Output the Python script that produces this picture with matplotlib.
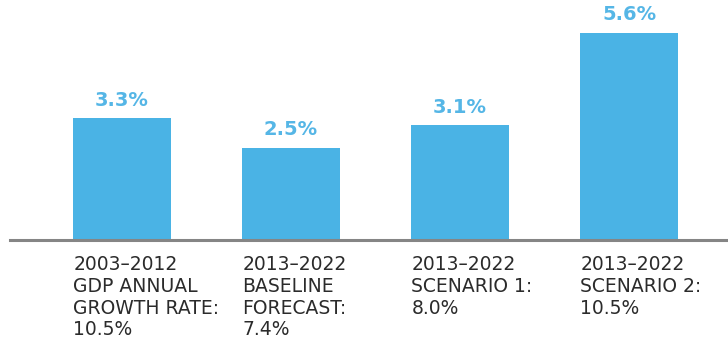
import matplotlib.pyplot as plt

categories = [
    "2003\u20132012\nGDP ANNUAL\nGROWTH RATE:\n10.5%",
    "2013\u20132022\nBASELINE\nFORECAST:\n7.4%",
    "2013\u20132022\nSCENARIO 1:\n8.0%",
    "2013\u20132022\nSCENARIO 2:\n10.5%",
]
values = [3.3, 2.5, 3.1, 5.6]
value_labels = ["3.3%", "2.5%", "3.1%", "5.6%"]

bar_color = "#4ab3e5"
label_color = "#55b6e6"
text_color = "#2b2b2b"

W, H = 728, 347
fig = plt.figure(figsize=(W / 100, H / 100), dpi=100)
base = 240  # baseline, px from top
ax = fig.add_axes([0, (H - base) / H, 1, base / H])

x = list(range(len(values)))
width = 0.574
ax.bar(x, values, width=width, color=bar_color, zorder=2)
ax.set_xlim(-122 / 169, (728 - 122) / 169)
ax.set_ylim(0, base / 37)

for xi, v, lab in zip(x, values, value_labels):
    ax.annotate(lab, (xi, v), xytext=(0, 6), textcoords="offset points",
                ha="center", va="bottom", fontsize=14, fontweight="bold",
                color=label_color)

for xi, cat in zip(x, categories):
    ax.annotate(cat, (xi - width / 2, 0), xytext=(0, -11), textcoords="offset points",
                ha="left", va="top", fontsize=13.5, color=text_color,
                linespacing=1.18, annotation_clip=False)

ax.axhline(0, xmin=10 / W, xmax=1, color="#858585", lw=2.2, zorder=3, clip_on=False)
ax.axis("off")

fig.savefig("out.png", dpi=100)
